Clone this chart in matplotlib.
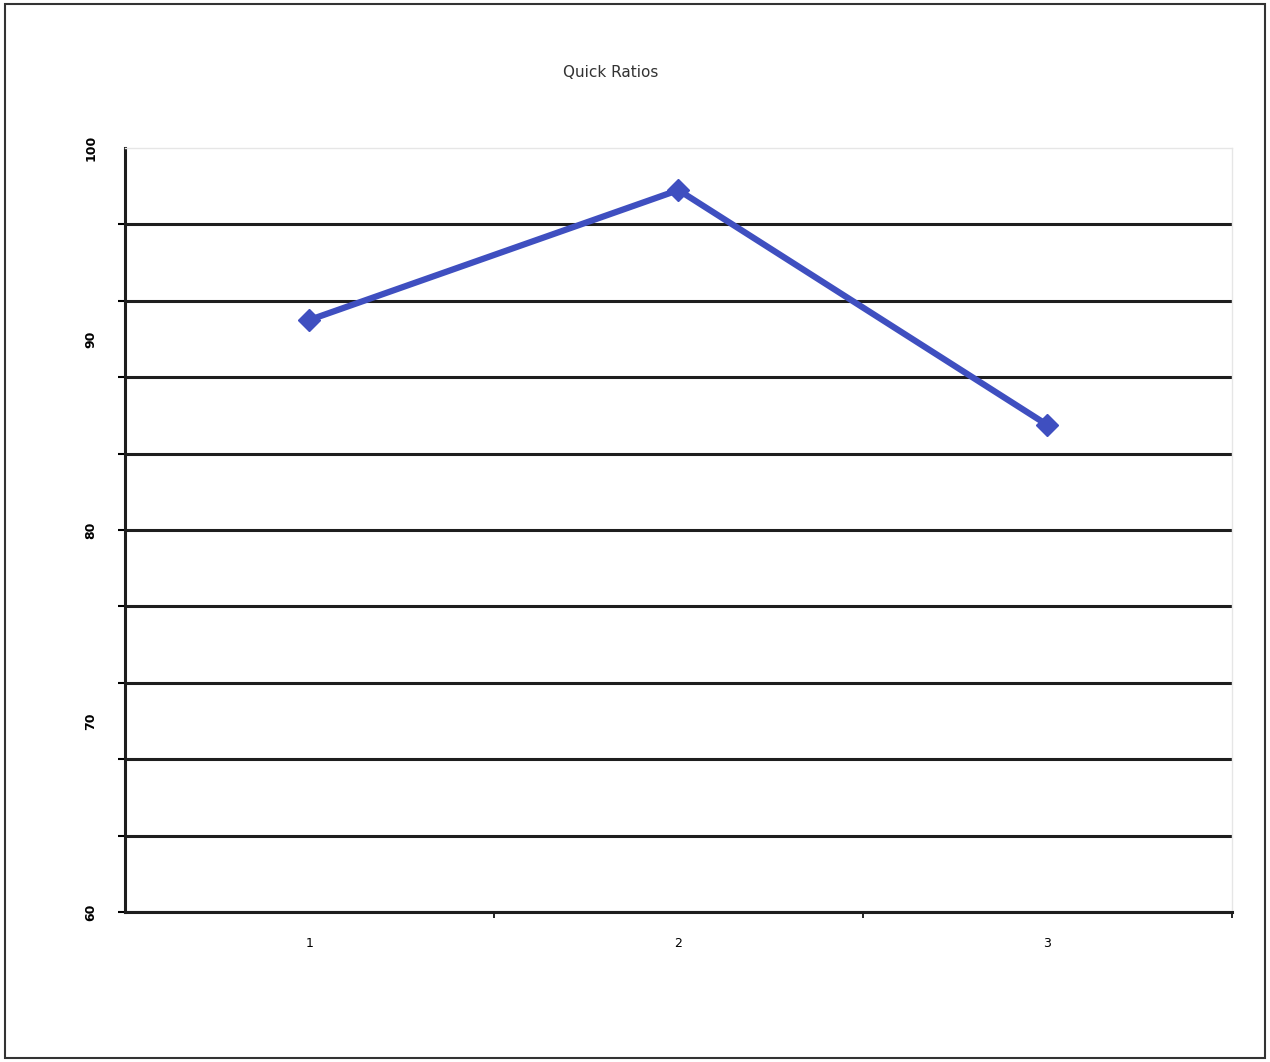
import numpy as np
import matplotlib.pyplot as plt
from matplotlib.patches import Rectangle

# Quick ratio per period
periods = ["1", "2", "3"]
quick_ratio = [91.0, 97.8, 85.5]
y_labels = [60, 70, 80, 90, 100]

fig = plt.figure(figsize=(12.7, 10.62), dpi=100)
fig.patches.append(Rectangle((0.004, 0.004), 0.992, 0.992, transform=fig.transFigure,
                             fill=False, edgecolor="#333333", linewidth=1.5))

ax = fig.add_axes([0.0984, 0.1412, 0.8716, 0.7194])
x = np.arange(1, len(periods) + 1)
ax.plot(x, quick_ratio, color="#3f4fc0", linewidth=4.5, marker="D",
        markersize=11, zorder=3)

ax.set_xlim(0.5, len(periods) + 0.5)
ax.set_ylim(60, 100)

# gridlines every 4 (none on the top edge), labels every 10
ax.yaxis.remove_overlapping_locs = False
ax.set_yticks(np.arange(60, 100, 4), minor=True)
ax.grid(which="minor", axis="y", color="#1e1e1e", linewidth=2.2)
ax.set_yticks(y_labels)
ax.set_yticklabels([str(v) for v in y_labels], rotation=90, va="center",
                   fontsize=9, fontweight="bold")
ax.tick_params(axis="y", which="major", length=0, pad=20)
ax.tick_params(axis="y", which="minor", length=5, width=1.5, direction="out")

ax.set_xticks(x)
ax.set_xticklabels(periods, fontsize=9)
ax.set_xticks(np.arange(1.5, len(periods) + 0.6, 1), minor=True)
ax.tick_params(axis="x", which="major", length=0, pad=18)
ax.tick_params(axis="x", which="minor", length=4, width=1.2, direction="out")

for s in ["top", "right"]:
    ax.spines[s].set_color("#e6e6e6")
    ax.spines[s].set_linewidth(1)
for s in ["left", "bottom"]:
    ax.spines[s].set_color("#1e1e1e")
    ax.spines[s].set_linewidth(2.2)

fig.text(0.481, 0.932, "Quick Ratios", ha="center", va="center", fontsize=11,
         color="#333333")

fig.savefig("out.png", dpi=100)
